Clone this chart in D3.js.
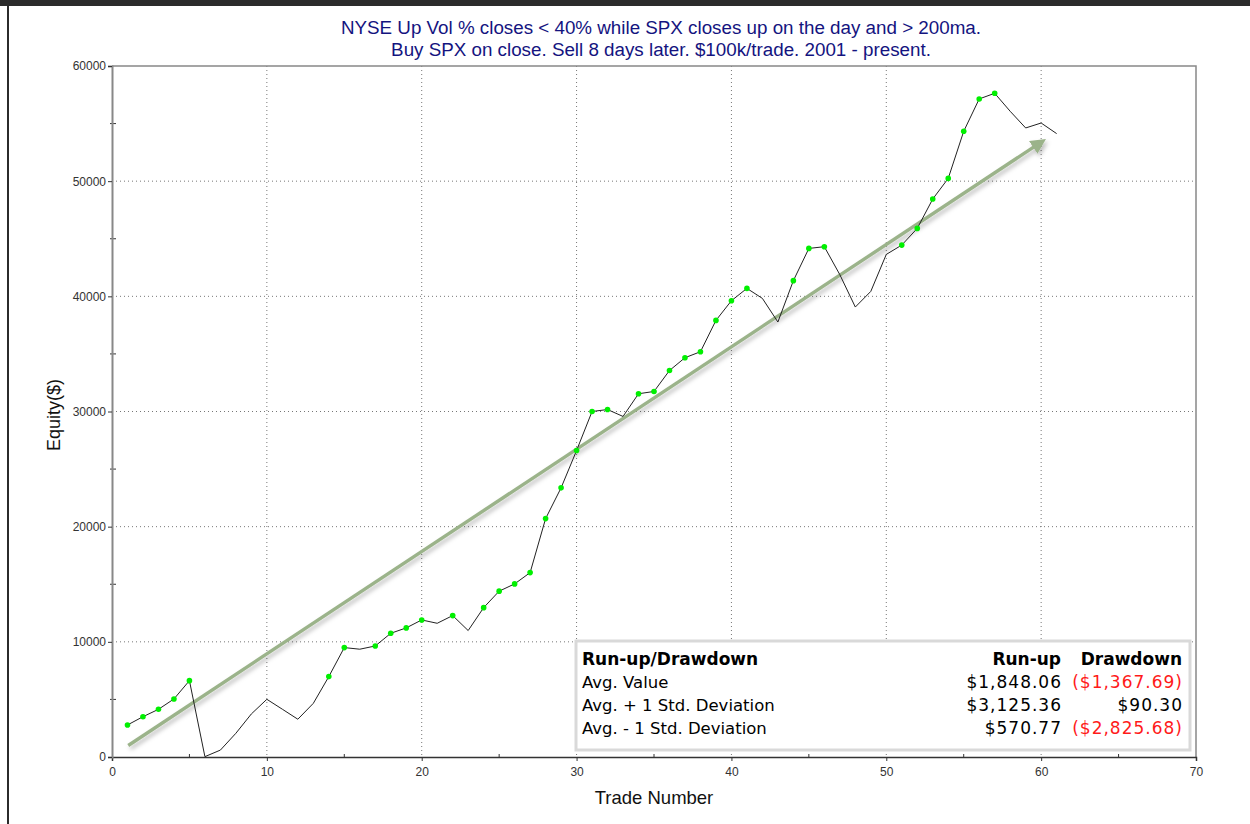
<!DOCTYPE html>
<html>
<head>
<meta charset="utf-8">
<script src="https://cdn.jsdelivr.net/npm/d3@7"></script>
<style>
  body { margin: 0; background: #fff; }
  svg { display: block; }
  .tick text { font-family: "Liberation Sans", Arial, sans-serif; font-size: 12px; fill: #333; }
</style>
</head>
<body>
<div id="chart"></div>
<script>
// Chart data
const titleLines = [
  "NYSE Up Vol % closes < 40% while SPX closes up on the day and > 200ma.",
  "Buy SPX on close. Sell 8 days later. $100k/trade. 2001 - present."
];
const tradeNumbers = d3.range(1, 62);
const equity = [
  2780, 3500, 4140, 5040, 6630, 30, 600, 2060, 3740, 5010,
  4150, 3280, 4660, 6980, 9500, 9360, 9640, 10740, 11210, 11900,
  11610, 12280, 10980, 12970, 14400, 15030, 16010, 20700, 23370, 26610,
  30000, 30170, 29570, 31540, 31740, 33560, 34670, 35190, 37910, 39620,
  40690, 39820, 37770, 41360, 44160, 44310, 41880, 39070, 40430, 43640,
  44450, 45900, 48450, 50240, 54330, 57140, 57630, 56070, 54620, 55050,
  54130
];
const xTicks = [0, 10, 20, 30, 40, 50, 60, 70];
const yTicks = [0, 10000, 20000, 30000, 40000, 50000, 60000];
// trend arrow, in data units
const arrowFrom = [1.05, 1000];
const arrowTo = [59.9, 53300];

const statHeader = ["Run-up/Drawdown", "Run-up", "Drawdown"];
const statLabels = ["Avg. Value", "Avg. + 1 Std. Deviation", "Avg. - 1 Std. Deviation"];
const runUp = [1848.06, 3125.36, 570.77];
const drawdown = [-1367.69, 90.30, -2825.68];

const W = 1250, H = 824;
const plot = {left: 112, right: 1196, top: 66, bottom: 757};

const svg = d3.select("#chart").append("svg")
  .attr("width", W).attr("height", H);

// window frame
svg.append("rect").attr("x", 0).attr("y", 0).attr("width", W).attr("height", 6).attr("fill", "#2b2b2b");
svg.append("rect").attr("x", 7).attr("y", 6).attr("width", 2).attr("height", H - 6).attr("fill", "#2b2b2b");

const x = d3.scaleLinear().domain([0, 70]).range([plot.left, plot.right]);
const y = d3.scaleLinear().domain([0, 60000]).range([plot.bottom, plot.top]);

// gridlines
svg.append("g")
  .selectAll("line").data(xTicks.slice(1, -1)).join("line")
    .attr("x1", d => x(d)).attr("x2", d => x(d))
    .attr("y1", plot.top).attr("y2", plot.bottom)
    .attr("stroke", "#777").attr("stroke-dasharray", "1,3");
svg.append("g")
  .selectAll("line").data(yTicks.slice(1, -1)).join("line")
    .attr("x1", plot.left).attr("x2", plot.right)
    .attr("y1", d => y(d)).attr("y2", d => y(d))
    .attr("stroke", "#777").attr("stroke-dasharray", "1,3");

// top and right border
svg.append("path")
  .attr("d", `M${plot.left},${plot.top}H${plot.right}V${plot.bottom}`)
  .attr("fill", "none").attr("stroke", "#888").attr("stroke-width", 1.5);

// minor ticks
svg.append("g")
  .selectAll("line").data(d3.range(5, 70, 10)).join("line")
    .attr("x1", d => x(d)).attr("x2", d => x(d))
    .attr("y1", plot.bottom - 3).attr("y2", plot.bottom + 1)
    .attr("stroke", "#333");
svg.append("g")
  .selectAll("line").data(d3.range(5000, 60000, 10000)).join("line")
    .attr("x1", plot.left - 2).attr("x2", plot.left + 4)
    .attr("y1", d => y(d)).attr("y2", d => y(d))
    .attr("stroke", "#333");

// axes
const xAxis = svg.append("g")
  .attr("transform", `translate(0,${plot.bottom})`)
  .call(d3.axisBottom(x).tickValues(xTicks).tickSize(4).tickPadding(6).tickFormat(d3.format("d")));
xAxis.select(".domain").attr("stroke", "#333").attr("stroke-width", 1.5);
xAxis.selectAll(".tick line").attr("stroke", "#333");

const yAxis = svg.append("g")
  .attr("transform", `translate(${plot.left},0)`)
  .call(d3.axisLeft(y).tickValues(yTicks).tickSize(4).tickPadding(2).tickFormat(d3.format("d")));
yAxis.select(".domain").attr("stroke", "#888").attr("stroke-width", 2);
yAxis.selectAll(".tick line").attr("stroke", "#333");

// axis titles
svg.append("text")
  .attr("x", x(35)).attr("y", 804)
  .attr("text-anchor", "middle")
  .style("font-family", "Liberation Sans, Arial, sans-serif").style("font-size", "18.5px").attr("fill", "#111")
  .text("Trade Number");
svg.append("text")
  .attr("transform", `translate(60,${y(29700)}) rotate(-90)`)
  .attr("text-anchor", "middle")
  .style("font-family", "Liberation Sans, Arial, sans-serif").style("font-size", "18px").attr("fill", "#111")
  .text("Equity($)");

// title
svg.append("g").selectAll("text").data(titleLines).join("text")
  .attr("x", 661).attr("y", (d, i) => 34 + i * 22)
  .attr("text-anchor", "middle")
  .style("font-family", "Liberation Sans, Arial, sans-serif").style("font-size", "18.8px")
  .attr("fill", "#14147f")
  .text(d => d);

// trend arrow with shadow
const defs = svg.append("defs");
defs.append("marker")
  .attr("id", "arrowHead")
  .attr("viewBox", "0 0 10 10").attr("refX", 5).attr("refY", 5)
  .attr("markerWidth", 4.5).attr("markerHeight", 4.5)
  .attr("orient", "auto")
  .append("path").attr("d", "M0,0L10,5L0,10Z").attr("fill", "#9bb38a");
const shadow = defs.append("filter").attr("id", "shadow")
  .attr("x", "-10%").attr("y", "-10%").attr("width", "120%").attr("height", "120%");
shadow.append("feDropShadow")
  .attr("dx", 2).attr("dy", 3).attr("stdDeviation", 2)
  .attr("flood-color", "#000").attr("flood-opacity", 0.25);

svg.append("line")
  .attr("x1", x(arrowFrom[0])).attr("y1", y(arrowFrom[1]))
  .attr("x2", x(arrowTo[0])).attr("y2", y(arrowTo[1]))
  .attr("stroke", "#9bb38a").attr("stroke-width", 3.4)
  .attr("marker-end", "url(#arrowHead)")
  .attr("filter", "url(#shadow)");

// equity line
const series = tradeNumbers.map((t, i) => ({trade: t, value: equity[i]}));
const line = d3.line().x(d => x(d.trade)).y(d => y(d.value));
svg.append("path")
  .datum(series)
  .attr("d", line)
  .attr("fill", "none").attr("stroke", "#222").attr("stroke-width", 1);

// green dots mark new equity highs
let best = -Infinity;
const highs = series.filter(d => { if (d.value > best) { best = d.value; return true; } return false; });
svg.append("g").selectAll("circle").data(highs).join("circle")
  .attr("cx", d => x(d.trade)).attr("cy", d => y(d.value))
  .attr("r", 2.8).attr("fill", "#00f000");

// stats box
const box = svg.append("g");
box.append("rect")
  .attr("x", 576).attr("y", 641).attr("width", 614).attr("height", 109)
  .attr("fill", "#fff").attr("stroke", "#d9d9d9").attr("stroke-width", 3);

const money = v => {
  const s = "$" + d3.format(",.2f")(Math.abs(v));
  return v < 0 ? "(" + s + ")" : s;
};
const tableFont = "DejaVu Sans, Verdana, sans-serif";
const rowY = i => 665 + i * 23;
const col1 = 1061, col2 = 1182;

box.append("text").attr("x", 582).attr("y", rowY(0))
  .style("font-family", tableFont).style("font-size", "17px").style("font-weight", "bold")
  .text(statHeader[0]);
box.append("text").attr("x", col1).attr("y", rowY(0)).attr("text-anchor", "end")
  .style("font-family", tableFont).style("font-size", "17px").style("font-weight", "bold")
  .text(statHeader[1]);
box.append("text").attr("x", col2).attr("y", rowY(0)).attr("text-anchor", "end")
  .style("font-family", tableFont).style("font-size", "17px").style("font-weight", "bold")
  .text(statHeader[2]);

statLabels.forEach((label, i) => {
  box.append("text").attr("x", 582).attr("y", rowY(i + 1))
    .style("font-family", tableFont).style("font-size", "16.5px").attr("fill", "#000")
    .text(label);
  box.append("text").attr("x", col1 + 1).attr("y", rowY(i + 1)).attr("text-anchor", "end")
    .style("font-family", tableFont).style("font-size", "17px").style("letter-spacing", "1px")
    .attr("fill", runUp[i] < 0 ? "#ff1a1a" : "#000")
    .text(money(runUp[i]));
  box.append("text").attr("x", col2 + 1).attr("y", rowY(i + 1)).attr("text-anchor", "end")
    .style("font-family", tableFont).style("font-size", "17px").style("letter-spacing", "1px")
    .attr("fill", drawdown[i] < 0 ? "#ff1a1a" : "#000")
    .text(money(drawdown[i]));
});
</script>
</body>
</html>
